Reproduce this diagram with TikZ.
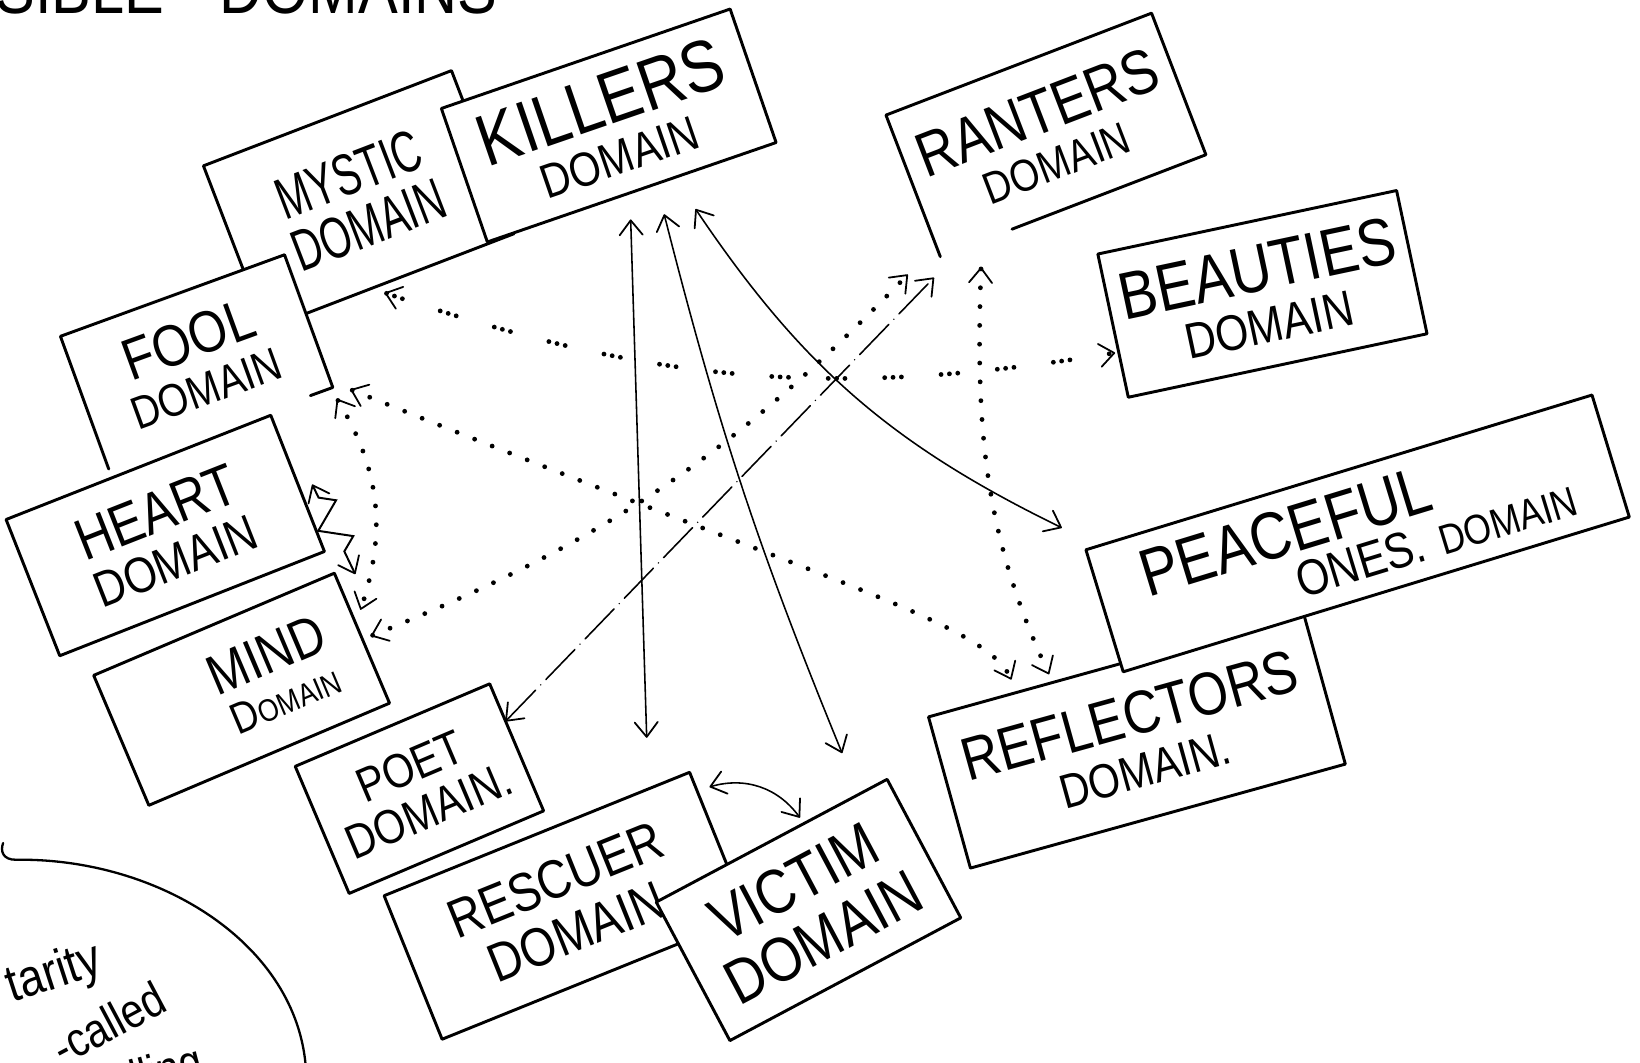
\documentclass[tikz,border=0pt]{standalone}
\usepackage{fontspec}
\newfontfamily\hand[FakeStretch=0.85]{Liberation Sans}
\newfontfamily\handnarrow[FakeStretch=0.68]{Liberation Sans}
\newcommand{\fsz}[2]{\fontsize{#1}{#2}\selectfont}
\usetikzlibrary{arrows.meta, calc, decorations.pathmorphing}

\begin{document}
\begin{tikzpicture}[
    x=1pt, y=1pt,
    pen/.tip={Straight Barb[length=14pt, width=22pt, line width=1.7pt, round]},
    dombox/.style={draw, line width=2.8pt, fill=white, inner sep=0pt, outer sep=0pt, align=center, line join=round},
    openbox/.style={dombox, draw=none},
    rim/.style={line width=2.8pt, line cap=round, line join=round},
    link/.style={line width=1.5pt, pen-pen},
    dotlink/.style={line width=4.6pt, line cap=round, dash pattern=on 0pt off 18pt, pen-pen},
    tridotlink/.style={line width=4.6pt, line cap=round, dash pattern=on 0pt off 8pt on 0pt off 8pt on 0pt off 38pt, pen-pen},
    dashlink/.style={line width=1.5pt, line cap=round, dash pattern=on 40pt off 7pt on 0pt off 7pt, pen-pen},
    zig/.style={line width=1.9pt, pen-pen, decorate, decoration={zigzag, segment length=38pt, amplitude=14pt, pre length=14pt, post length=14pt}},
    scrawl/.style={font=\hand\fsz{50}{50}, inner sep=0pt}
  ]

  \fill[white] (0,0) rectangle (1568,-1016);
  \useasboundingbox (0,0) rectangle (1568,-1016);
  \clip (0,0) rectangle (1568,-1016);

  % title, cut off by the top edge
  \node[scrawl, font=\hand\fsz{67}{67}, anchor=base west] (title) at (-125,-13) {POSSIBLE\hspace{53pt}DOMAINS};

  % domains, from back to front
  \node[dombox, rotate=21, minimum width=254pt, minimum height=167pt, font=\handnarrow\fsz{56}{52}] (mystic) at (343,-191) {MYSTIC\\DOMAIN};
  \node[dombox, rotate=19, minimum width=292pt, minimum height=135pt, font=\hand\fsz{70}{48}] (killers) at (582,-120) {KILLERS\\{\fsz{46}{48}DOMAIN}};
  \node[openbox, rotate=20, minimum width=228pt, minimum height=135pt, font=\hand\fsz{56}{46}] (fool) at (188,-346) {FOOL\\{\fsz{44}{46}DOMAIN}};
  \draw[rim] (fool.south west) -- (fool.north west) -- (fool.north east) -- (fool.south east) -- ($(fool.south east)!.1!(fool.south west)$);
  \node[dombox, rotate=21.5, minimum width=272pt, minimum height=140pt, font=\hand\fsz{56}{48}] (heart) at (158,-512) {HEART\\{\fsz{48}{48}DOMAIN}};
  \node[dombox, rotate=23, minimum width=250pt, minimum height=135pt, font=\hand\fsz{54}{42}] (mind) at (231,-659) {\hspace*{70pt}MIND\\\hspace*{70pt}{\fsz{42}{42}D}{\fsz{30}{42}OMAIN}};
  \node[dombox, rotate=23, minimum width=202pt, minimum height=132pt, font=\hand\fsz{46}{46}] (poet) at (401,-754) {POET\\DOMAIN.};
  \node[dombox, rotate=22, minimum width=315pt, minimum height=148pt, font=\hand\fsz{52}{54}] (rescuer) at (541,-866) {RESCUER\\DOMAIN};
  \node[dombox, rotate=28, minimum width=250pt, minimum height=150pt, font=\hand\fsz{60}{60}] (victim) at (773,-870) {VICTIM\\DOMAIN};
  \node[openbox, rotate=21, minimum width=272pt, minimum height=145pt, font=\hand\fsz{60}{46}] (ranters) at (1000,-129) {RANTERS\\{\fsz{43}{46}DOMAIN}};
  \draw[rim] ($(ranters.south west)!.27!(ranters.south east)$) -- (ranters.south east) -- (ranters.north east) -- (ranters.north west) -- (ranters.south west);
  \node[dombox, rotate=12, minimum width=292pt, minimum height=140pt, font=\hand\fsz{64}{50}] (beauties) at (1207,-281) {BEAUTIES\\{\fsz{48}{50}DOMAIN}};
  \node[dombox, rotate=15.5, minimum width=372pt, minimum height=150pt, font=\hand\fsz{58}{50}] (reflectors) at (1087,-708) {REFLECTORS\\{\fsz{46}{50}DOMAIN.}};
  \node[dombox, rotate=17, minimum width=506pt, minimum height=122pt, font=\hand\fsz{64}{44}, align=left] (peaceful) at (1298,-510) {PEACEFUL\\\hspace*{140pt}{\fsz{48}{44}ONES.}\ {\fsz{40}{44}DOMAIN}};

  % solid links
  \draw[link] ($(killers.south)+(-1,-26)$) -- ($(rescuer.north east)+(-41,33)$);
  \draw[link] ($(killers.south)+(31,-21)$) to[bend right=4] ($(victim.north east)+(-43,25)$);
  \draw[link] ($(killers.south)+(61,-16)$) to[bend right=15] ($(peaceful.north west)+(-23,21)$);
  \draw[link] ($(rescuer.north east)+(19,-14)$) to[bend left=35] ($(victim.north)+(27,22)$);
  \draw[dashlink] ($(poet.north east)+(15,-36)$) -- ($(ranters.south west)+(-6,-20)$);
  \draw[zig] ($(heart.east)+(14,-1)$) -- ($(mind.north east)+(20,-1)$);

  % dotted links
  \draw[tridotlink] ($(mystic.south)+(-5,-11)$) to[bend right=14] ($(beauties.west)+(2,-26)$);
  \draw[dotlink] ($(fool.south east)+(4,-11)$) to[bend left=25] ($(mind.north east)+(25,-35)$);
  \draw[dotlink] ($(fool.south east)+(17,-2)$) .. controls +(-22:500) and +(115:60) .. ($(reflectors.north)+(-100,-14)$);
  \draw[dotlink] ($(mind.north east)+(35,-60)$) to[bend right=12] ($(ranters.south west)+(-31,-17)$);
  \draw[dotlink] ($(ranters.south west)+(39,-10)$) .. controls +(-92:150) and +(115:150) .. ($(reflectors.north)+(-64,-9)$);

  % note circle, bottom left
  \draw[rim, line width=2.2pt] (3,-806) .. controls (0,-814) and (3,-822) .. (15,-822) .. controls (150,-820) and (280,-900) .. (292,-1016);
  \node[scrawl, rotate=18] (tarity) at (52,-932) {tarity};
  \node[scrawl, rotate=28, font=\hand\fsz{46}{46}] (called) at (104,-978) {-called};
  \node[scrawl, rotate=15, font=\hand\fsz{46}{46}] (lling) at (160,-1026) {lling};

\end{tikzpicture}
\end{document}
